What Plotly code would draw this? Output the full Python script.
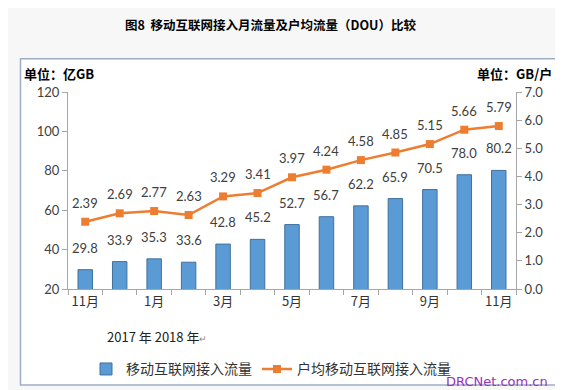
import plotly.graph_objects as go

months = ["11月", "12月", "1月", "2月", "3月", "4月", "5月", "6月", "7月", "8月", "9月", "10月", "11月"]
traffic = [29.8, 33.9, 35.3, 33.6, 42.8, 45.2, 52.7, 56.7, 62.2, 65.9, 70.5, 78.0, 80.2]
dou = [2.39, 2.69, 2.77, 2.63, 3.29, 3.41, 3.97, 4.24, 4.58, 4.85, 5.15, 5.66, 5.79]
left_ticks = [20, 40, 60, 80, 100, 120]
right_ticks = [0, 1, 2, 3, 4, 5, 6, 7]

idx = list(range(len(months)))
L, R, T, B = 60, 55, 84, 105
W, H = 563, 390
pw, ph = W - L - R, H - T - B

def px(x):
    return (x - L) / pw

def py(y):
    return (H - B - y) / ph

num_font = dict(family="Lato, Liberation Sans, sans-serif", size=13, color="#404040")
cjk = "Noto Sans CJK SC, sans-serif"

fig = go.Figure()
fig.add_trace(go.Bar(
    x=idx, y=traffic, name="移动互联网接入流量",
    marker=dict(color="#5B9BD5", line=dict(color="#41719C", width=1)),
    width=0.42,
))
fig.add_trace(go.Scatter(
    x=idx, y=dou, name="户均移动互联网接入流量", yaxis="y2",
    mode="lines+markers",
    line=dict(color="#ED7D31", width=2.5),
    marker=dict(symbol="square", size=8, color="#ED7D31"),
    cliponaxis=False,
))

annotations = []
for i, v in zip(idx, traffic):
    annotations.append(dict(x=i, y=v, xref="x", yref="y", text=f"{v:.1f}",
                            showarrow=False, yshift=22, yanchor="middle",
                            font=num_font))
for i, v in zip(idx, dou):
    annotations.append(dict(x=i, y=v, xref="x", yref="y2", text=f"{v:.2f}",
                            showarrow=False, yshift=19, yanchor="middle",
                            font=num_font))

annotations += [
    dict(text="<b>图8  移动互联网接入月流量及户均流量（DOU）比较</b>",
         xref="paper", yref="paper", x=px(262), y=py(15),
         showarrow=False, font=dict(family=cjk, size=12.5, color="#000000"),
         xanchor="center", yanchor="middle"),
    dict(text="<b>单位：亿GB</b>", xref="paper", yref="paper",
         x=px(14), y=py(65), showarrow=False, xanchor="left", yanchor="middle",
         font=dict(family=cjk, size=13, color="#000000")),
    dict(text="<b>单位：GB/户</b>", xref="paper", yref="paper",
         x=px(546), y=py(65), showarrow=False, xanchor="right", yanchor="middle",
         font=dict(family=cjk, size=13, color="#000000")),
    dict(text="2017 年 2018 年<span style='font-size:9px;color:#888'>↵</span>",
         xref="paper", yref="paper",
         x=px(97), y=py(333), showarrow=False, xanchor="left", yanchor="middle",
         font=dict(family="Noto Sans CJK SC, serif", size=13, color="#222222")),
    dict(text="DRCNet.com.cn", xref="paper", yref="paper",
         x=px(489), y=py(379), showarrow=False, xanchor="center", yanchor="middle",
         font=dict(family="DejaVu Sans, sans-serif", size=13, color="#9a2fc0")),
]

fig.update_layout(
    width=W, height=H,
    margin=dict(l=L, r=R, t=T, b=B),
    paper_bgcolor="#f7f7f7", plot_bgcolor="rgba(0,0,0,0)",
    showlegend=True,
    legend=dict(orientation="h", x=px(78), y=py(367), xanchor="left", yanchor="middle",
                font=dict(family=cjk, size=14, color="#333333"),
                bgcolor="rgba(0,0,0,0)", traceorder="normal",
                tracegroupgap=0),
    xaxis=dict(
        range=[-0.5, len(months) - 0.5],
        tickvals=idx[::2], ticktext=months[::2],
        ticks="", showline=True, linecolor="#a6a6a6", linewidth=1,
        tickfont=dict(family=cjk, size=13, color="#333333"),
        minor=dict(tickmode="linear", tick0=-0.5, dtick=1, ticks="outside",
                   ticklen=5, tickcolor="#a6a6a6"),
        showgrid=False, zeroline=False, fixedrange=True,
    ),
    yaxis=dict(
        range=[20, 120], tickvals=left_ticks,
        ticks="outside", ticklen=5, tickcolor="#a6a6a6",
        showline=True, linecolor="#a6a6a6", linewidth=1,
        showgrid=False, zeroline=False,
        tickfont=num_font,
    ),
    yaxis2=dict(
        range=[0, 7], tickvals=right_ticks,
        ticktext=[f"{v:.1f}" for v in right_ticks],
        overlaying="y", side="right",
        ticks="outside", ticklen=5, tickcolor="#a6a6a6",
        showline=True, linecolor="#a6a6a6", linewidth=1,
        showgrid=False, zeroline=False,
        tickfont=num_font,
    ),
    shapes=[dict(type="rect", xref="paper", yref="paper",
                 x0=px(12.5), x1=px(551), y0=py(383), y1=py(50),
                 line=dict(color="#9fadc4", width=1.5), fillcolor="white",
                 layer="below")],
    annotations=annotations,
)

fig.write_html("out.html")
